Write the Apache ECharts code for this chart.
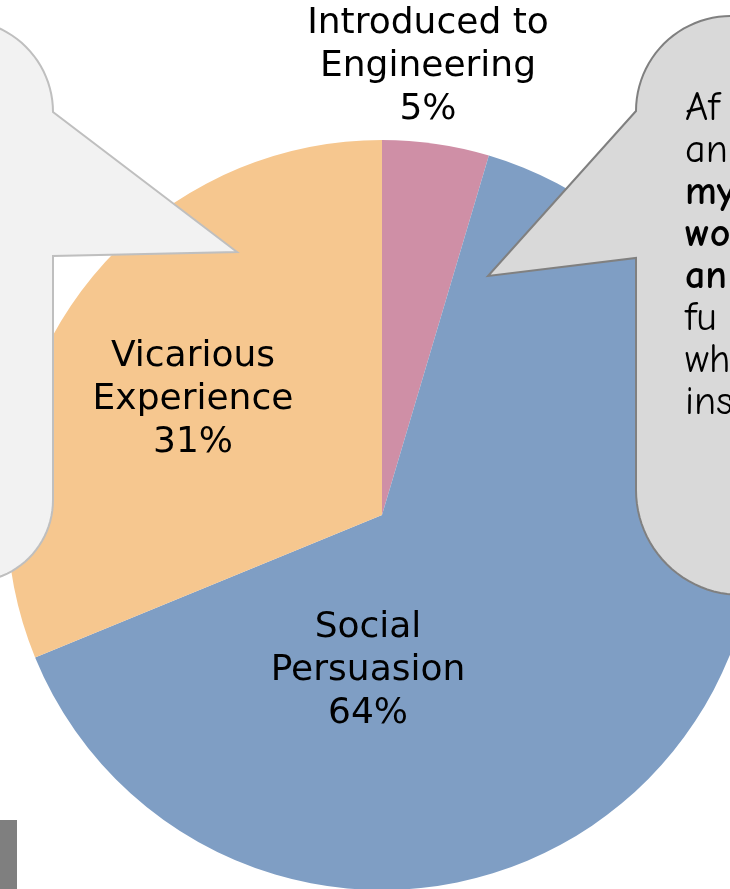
<!DOCTYPE html>
<html>
<head>
<meta charset="utf-8">
<script src="https://cdn.jsdelivr.net/npm/echarts@6/dist/echarts.min.js"></script>
<style>
  html, body { margin: 0; padding: 0; background: #fff; }
  #chart { width: 730px; height: 889px; }
</style>
</head>
<body>
<div id="chart"></div>
<script>
const categories = ["Introduced to\nEngineering", "Social\nPersuasion", "Vicarious\nExperience"];
const values = [4.6, 64.2, 31.2];
const colors = ["#CF8FA6", "#7F9EC4", "#F6C78F"];
// where each label sits (centre of the text block)
const labelPos = [[428, 67], [368, 671], [193, 400]];

// text inside the right speech bubble (cut off by the picture edge)
const bubbleLines = [
  ["Af", false], ["an", false], ["my", true], ["wo", true],
  ["an", true], ["fu", false], ["wh", false], ["ins", false]
];

const chart = echarts.init(document.getElementById("chart"));

// quarter-circle points for the rounded bubble corners
function arc(cx, cy, r, a0, a1) {
  const pts = [];
  for (let i = 0; i <= 24; i++) {
    const a = (a0 + (a1 - a0) * i / 24) * Math.PI / 180;
    pts.push([cx + r * Math.cos(a), cy + r * Math.sin(a)]);
  }
  return pts;
}

const leftBubble = [[-60, 20]]
  .concat(arc(-39, 112, 92, -90, 0))
  .concat([[237, 252], [53, 256]])
  .concat(arc(-29, 500, 82, 0, 90))
  .concat([[-60, 582]]);

const rightBubble = [[790, 16]]
  .concat(arc(731, 111, 95, -90, -180))
  .concat([[488, 276], [636, 258]])
  .concat(arc(741, 490, 105, 180, 90))
  .concat([[790, 595]]);

const bubbleText = bubbleLines
  .map(function (l) { return "{" + (l[1] ? "b" : "n") + "|" + l[0] + "}"; })
  .join("\n");

const comic = "'Comic Sans MS', 'Comic Neue', cursive";

const option = {
  animation: false,
  series: [
    {
      type: "pie",
      center: [382, 515],
      radius: 375,
      startAngle: 90,
      clockwise: true,
      silent: true,
      labelLine: { show: false },
      label: {
        show: true,
        position: "inside",
        color: "#000",
        fontFamily: "DejaVu Sans, sans-serif",
        fontSize: 36,
        lineHeight: 43,
        formatter: function (p) {
          return p.name + "\n" + Math.round(p.value) + "%";
        }
      },
      labelLayout: function (p) {
        return {
          x: labelPos[p.dataIndex][0],
          y: labelPos[p.dataIndex][1],
          align: "center",
          verticalAlign: "middle",
          hideOverlap: false
        };
      },
      data: categories.map(function (c, i) {
        return { name: c, value: values[i], itemStyle: { color: colors[i] } };
      })
    }
  ],
  graphic: [
    {
      // left speech bubble
      type: "polygon",
      z: 100,
      shape: { points: leftBubble },
      style: { fill: "#F2F2F2", stroke: "#BFBFBF", lineWidth: 2 }
    },
    {
      // right speech bubble
      type: "polygon",
      z: 100,
      shape: { points: rightBubble },
      style: { fill: "#D9D9D9", stroke: "#808080", lineWidth: 2 }
    },
    {
      type: "text",
      z: 101,
      left: 685,
      top: 89,
      style: {
        text: bubbleText,
        fill: "#000",
        rich: {
          n: { fontFamily: comic, fontSize: 40, lineHeight: 42 },
          b: { fontFamily: comic, fontSize: 40, lineHeight: 42, fontWeight: "bold" }
        }
      }
    },
    {
      // small dark block at the bottom left
      type: "rect",
      z: 100,
      shape: { x: 0, y: 820, width: 17, height: 69 },
      style: { fill: "#7F7F7F" }
    }
  ]
};

chart.setOption(option);
</script>
</body>
</html>
